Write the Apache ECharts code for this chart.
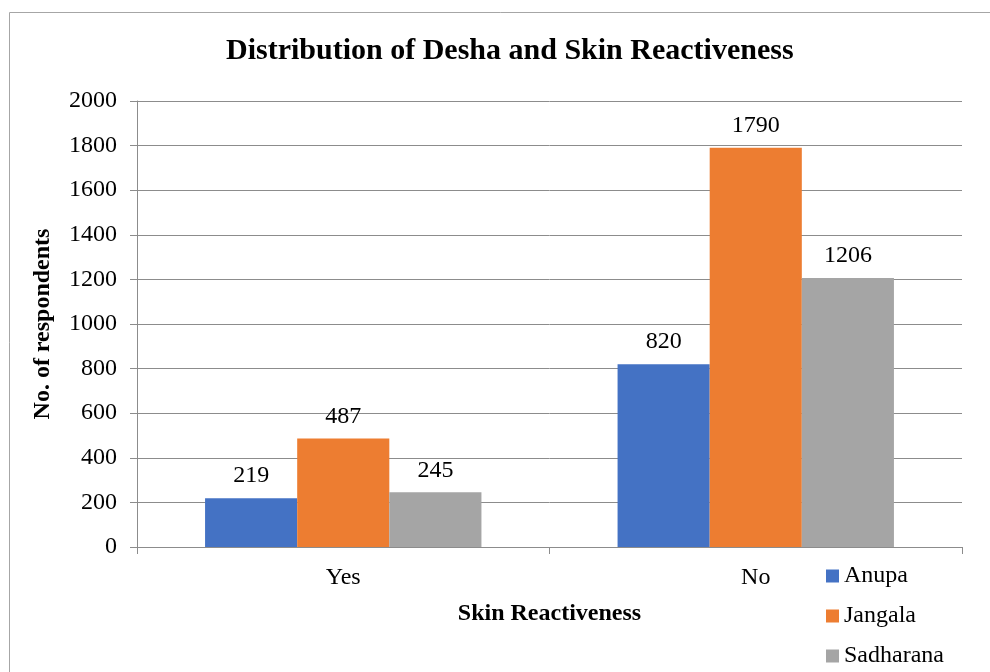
<!DOCTYPE html>
<html>
<head>
<meta charset="utf-8">
<script src="https://cdn.jsdelivr.net/npm/echarts@6/dist/echarts.min.js"></script>
<style>
  html, body { margin: 0; padding: 0; background: #fff; }
  #chart { width: 990px; height: 672px; }
</style>
</head>
<body>
<div id="chart"></div>
<script>
// data
const categories = ['Yes', 'No'];
const anupa = [219, 820];
const jangala = [487, 1790];
const sadharana = [245, 1206];

const font = 'Liberation Serif, Times New Roman, serif';
const gridColor = '#8c8c8c';

function barSeries(name, data, color) {
  return {
    name: name,
    type: 'bar',
    data: data,
    barGap: '0%',
    barCategoryGap: '33%',
    itemStyle: { color: color },
    label: {
      show: true,
      position: 'top',
      distance: 10,
      color: '#000',
      fontFamily: font,
      fontSize: 24,
    },
  };
}

let chart = echarts.init(document.getElementById('chart'));
chart.setOption({
  animation: false,
  textStyle: { fontFamily: font },
  graphic: [
    {
      type: 'rect',
      shape: { x: 9.5, y: 12.5, width: 990, height: 700 },
      style: { fill: 'none', stroke: '#a6a6a6', lineWidth: 1 },
    },
  ],
  title: {
    text: 'Distribution of Desha and Skin Reactiveness',
    left: 221,
    top: 31,
    textStyle: { fontFamily: font, fontSize: 30, fontWeight: 'bold', color: '#000' },
  },
  legend: {
    orient: 'vertical',
    left: 826,
    top: 564,
    padding: 0,
    icon: 'rect',
    itemWidth: 13,
    itemHeight: 13,
    itemGap: 16,
    textStyle: { fontFamily: font, fontSize: 24, lineHeight: 24, color: '#000' },
    data: ['Anupa', 'Jangala', 'Sadharana'],
  },
  grid: { left: 137, right: 28, top: 101, bottom: 125 },
  xAxis: {
    type: 'category',
    data: categories,
    name: 'Skin Reactiveness',
    nameLocation: 'middle',
    nameGap: 55,
    nameTextStyle: { fontFamily: font, fontSize: 24, fontWeight: 'bold', color: '#000' },
    axisLine: { lineStyle: { color: gridColor } },
    axisTick: { show: true, length: 7, lineStyle: { color: gridColor } },
    axisLabel: { margin: 19, fontFamily: font, fontSize: 24, color: '#000' },
  },
  yAxis: {
    type: 'value',
    min: 0,
    max: 2000,
    interval: 200,
    name: 'No. of respondents',
    nameLocation: 'middle',
    nameGap: 82,
    nameTextStyle: { fontFamily: font, fontSize: 24, fontWeight: 'bold', color: '#000' },
    axisLine: { show: true, lineStyle: { color: gridColor } },
    axisTick: { show: true, length: 7, lineStyle: { color: gridColor } },
    axisLabel: {
      margin: 20,
      fontFamily: font,
      fontSize: 24,
      color: '#000',
      formatter: v => String(v),
    },
    splitLine: { lineStyle: { color: gridColor } },
  },
  series: [
    barSeries('Anupa', anupa, '#4472C4'),
    barSeries('Jangala', jangala, '#ED7D31'),
    barSeries('Sadharana', sadharana, '#A5A5A5'),
  ],
});
</script>
</body>
</html>
